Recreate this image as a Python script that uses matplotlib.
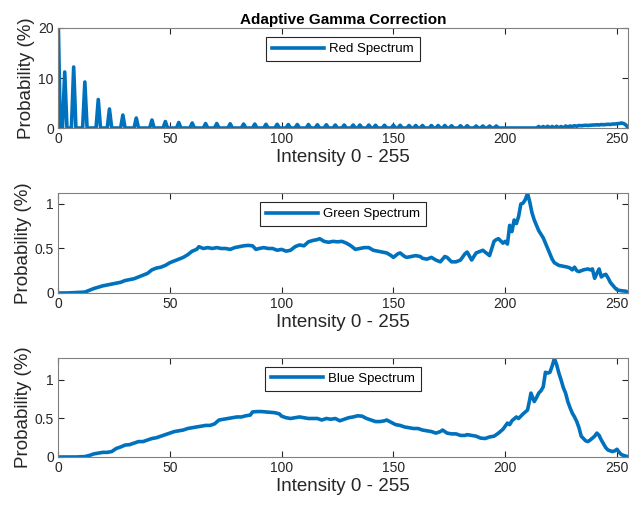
import matplotlib
matplotlib.use("Agg")
import matplotlib.pyplot as plt
import numpy as np

plt.rcParams['font.family'] = ['Liberation Sans', 'DejaVu Sans']

# red histogram: only some bins are filled (comb), all others are empty
red_bins = [0, 3, 7, 12, 18, 23, 29, 35, 42, 48, 54, 60, 66, 71, 77, 83, 88, 93, 98,
            103, 107, 112, 116, 120, 124, 128, 132, 135, 139, 142, 146, 150, 153, 157,
            160, 163, 167, 170, 173, 176, 180, 183, 187, 190, 193, 196,
            215, 217, 219, 221, 223, 225, 227, 228, 229, 230, 231, 232, 233, 234, 235,
            236, 237, 238, 239, 240, 241, 242, 243, 244, 245, 246, 247, 248, 249, 250,
            251, 252, 253, 254]
red_vals = [24, 11.2, 12.2, 9.2, 5.7, 3.8, 2.6, 2.0, 1.6, 1.3, 1.1, 1.0, 0.9, 0.9, 0.85,
            0.8, 0.8, 0.75, 0.75, 0.7, 0.7, 0.7, 0.65, 0.65, 0.6, 0.6, 0.6, 0.6, 0.6,
            0.55, 0.55, 0.55, 0.55, 0.5, 0.5, 0.5, 0.5, 0.5, 0.5, 0.45, 0.45, 0.45, 0.4,
            0.4, 0.4, 0.4,
            0.3, 0.3, 0.35, 0.3, 0.35, 0.3, 0.4, 0.2, 0.4, 0.3, 0.45, 0.35, 0.5, 0.45,
            0.5, 0.55, 0.5, 0.55, 0.6, 0.6, 0.65, 0.6, 0.7, 0.65, 0.7, 0.75, 0.7, 0.8,
            0.8, 0.85, 0.9, 1.0, 0.9, 0.6]

green_x = [0, 4, 8, 12, 14, 16, 18, 20, 22, 24, 26, 28, 30, 32, 34, 36, 38, 40, 42, 44,
           46, 48, 50, 52, 54, 56, 58, 60, 62, 63, 65, 67, 69, 71, 73, 75, 77, 79, 81, 83,
           85, 87, 88.5, 90, 92, 94, 96, 98, 100, 102, 104, 106, 108, 110, 112, 114, 116,
           117, 119, 121, 123, 125, 127, 129, 131, 133, 135, 137, 139, 141, 143, 145, 147,
           149, 150, 152, 153, 155, 156, 158, 160, 162, 163, 165, 167, 169, 171, 173, 174,
           176, 178, 180, 182, 183, 185, 187, 189, 190, 192, 193, 195, 196, 197, 199, 200,
           201, 202, 203, 204, 205, 206, 207, 208, 209, 210, 211, 212, 213, 214, 215, 217,
           219, 221, 222, 224, 226, 228, 229, 230, 231, 232, 233, 235, 237, 238, 239, 240,
           241, 242, 243, 244, 245, 246, 247, 248, 249, 250, 252, 254, 255]
green_y = [0, 0, 0.005, 0.01, 0.03, 0.05, 0.065, 0.08, 0.09, 0.1, 0.11, 0.12, 0.14, 0.15,
           0.16, 0.18, 0.2, 0.22, 0.26, 0.28, 0.29, 0.31, 0.34, 0.36, 0.38, 0.4, 0.43, 0.47,
           0.49, 0.52, 0.5, 0.51, 0.5, 0.51, 0.5, 0.5, 0.49, 0.51, 0.52, 0.53, 0.535, 0.53,
           0.49, 0.5, 0.51, 0.5, 0.5, 0.48, 0.49, 0.47, 0.48, 0.52, 0.54, 0.53, 0.575, 0.59,
           0.6, 0.61, 0.58, 0.57, 0.58, 0.575, 0.58, 0.56, 0.53, 0.49, 0.5, 0.51, 0.51, 0.48,
           0.47, 0.46, 0.45, 0.42, 0.4, 0.44, 0.45, 0.41, 0.4, 0.41, 0.42, 0.41, 0.39, 0.38,
           0.4, 0.37, 0.35, 0.41, 0.4, 0.35, 0.35, 0.37, 0.44, 0.46, 0.37, 0.45, 0.47, 0.48,
           0.44, 0.42, 0.58, 0.6, 0.61, 0.56, 0.58, 0.55, 0.76, 0.69, 0.82, 0.78, 0.86, 1.0,
           1.01, 1.05, 1.12, 1.02, 0.9, 0.82, 0.76, 0.7, 0.62, 0.5, 0.38, 0.34, 0.31, 0.3,
           0.29, 0.28, 0.26, 0.29, 0.25, 0.24, 0.26, 0.27, 0.26, 0.27, 0.165, 0.22, 0.27,
           0.18, 0.2, 0.21, 0.17, 0.12, 0.09, 0.06, 0.035, 0.025, 0.02, 0.005]

blue_x = [0, 4, 8, 12, 14, 16, 18, 20, 22, 24, 26, 28, 30, 32, 34, 36, 38, 40, 42, 44,
          46, 48, 50, 52, 54, 56, 58, 60, 62, 64, 66, 68, 70, 72, 74, 76, 78, 80, 82, 84,
          86, 87, 89, 91, 93, 95, 97, 99, 100, 102, 104, 106, 108, 110, 112, 114, 116, 118,
          120, 122, 124, 126, 128, 130, 132, 134, 136, 138, 140, 142, 144, 146, 147, 149,
          151, 153, 155, 157, 159, 161, 163, 165, 167, 169, 171, 172, 174, 176, 178, 180,
          182, 183, 185, 187, 189, 191, 193, 195, 197, 199, 201, 202, 203, 205, 206, 208,
          210, 211, 211.5, 213, 214, 215, 216, 217, 218, 219, 220, 221, 222, 223, 224, 225,
          226, 227, 228, 229, 230, 231, 232, 233, 234, 236, 237, 238, 240, 241, 242, 243,
          244, 245, 246, 247, 248, 249, 250, 251, 252, 253, 254, 255]
blue_y = [0, 0, 0, 0.005, 0.02, 0.04, 0.05, 0.06, 0.06, 0.07, 0.11, 0.13, 0.155, 0.16,
          0.18, 0.2, 0.2, 0.22, 0.24, 0.25, 0.27, 0.29, 0.31, 0.33, 0.34, 0.35, 0.37, 0.38,
          0.39, 0.4, 0.41, 0.41, 0.43, 0.48, 0.49, 0.5, 0.51, 0.52, 0.52, 0.535, 0.545,
          0.585, 0.59, 0.59, 0.585, 0.58, 0.575, 0.56, 0.53, 0.51, 0.5, 0.51, 0.52, 0.51,
          0.5, 0.5, 0.5, 0.48, 0.5, 0.49, 0.5, 0.47, 0.49, 0.51, 0.52, 0.535, 0.53, 0.5,
          0.48, 0.46, 0.46, 0.47, 0.48, 0.45, 0.42, 0.41, 0.39, 0.38, 0.37, 0.37, 0.35,
          0.34, 0.33, 0.31, 0.33, 0.35, 0.31, 0.3, 0.3, 0.28, 0.28, 0.29, 0.28, 0.27, 0.245,
          0.24, 0.26, 0.27, 0.31, 0.36, 0.44, 0.42, 0.47, 0.52, 0.5, 0.56, 0.61, 0.75, 0.83,
          0.72, 0.77, 0.83, 0.86, 0.91, 1.1, 1.09, 1.1, 1.18, 1.28, 1.2, 1.09, 1.0, 0.9,
          0.83, 0.72, 0.64, 0.57, 0.52, 0.46, 0.38, 0.27, 0.21, 0.2, 0.22, 0.27, 0.31, 0.28,
          0.22, 0.17, 0.12, 0.09, 0.08, 0.07, 0.08, 0.1, 0.06, 0.03, 0.02, 0.01, 0.005]

red_hist = np.zeros(256)
red_hist[red_bins] = red_vals

line_color = '#0072BD'
axis_color = '#262626'

fig = plt.figure(figsize=(6.3, 5.09), dpi=100)
positions = [[0.0921, 0.7485, 0.905, 0.1965],
             [0.0921, 0.4244, 0.905, 0.1965],
             [0.0921, 0.1022, 0.905, 0.1945]]

series = [(np.arange(256), red_hist, 'Red Spectrum', 20, [0, 10, 20], ['0', '10', '20']),
          (green_x, green_y, 'Green Spectrum', 1.124, [0, 0.5, 1], ['0', '0.5', '1']),
          (blue_x, blue_y, 'Blue Spectrum', 1.286, [0, 0.5, 1], ['0', '0.5', '1'])]

for i, (xs, ys, name, ytop, yt, ytl) in enumerate(series):
    ax = fig.add_axes(positions[i])
    ax.plot(xs, ys, color=line_color, lw=2.6, label=name, solid_joinstyle='round')
    ax.set_xlim(0, 255)
    ax.set_ylim(0, ytop)
    ax.set_xticks([0, 50, 100, 150, 200, 250])
    ax.set_yticks(yt)
    ax.set_yticklabels(ytl)
    ax.tick_params(direction='in', top=True, right=True, length=4, width=0.8,
                   labelsize=10, colors=axis_color, pad=3)
    for s in ax.spines.values():
        s.set_color('#808080')
        s.set_linewidth(0.8)
    ax.set_xlabel('Intensity 0 - 255', fontsize=13.5, color=axis_color, labelpad=2)
    ax.set_ylabel('Probability (%)', fontsize=13.5, color=axis_color, labelpad=2)
    leg = ax.legend(loc='upper center', bbox_to_anchor=(0.5, 0.91), fontsize=9.5,
                    fancybox=False, framealpha=1, edgecolor=axis_color,
                    handlelength=3.9, borderpad=0.45, borderaxespad=0,
                    handletextpad=0.4)
    leg.get_frame().set_linewidth(0.8)
    if i == 0:
        ax.set_title('Adaptive Gamma Correction', fontsize=11, fontweight='bold',
                     color='black', pad=3)

fig.savefig('out.png', dpi=100)
